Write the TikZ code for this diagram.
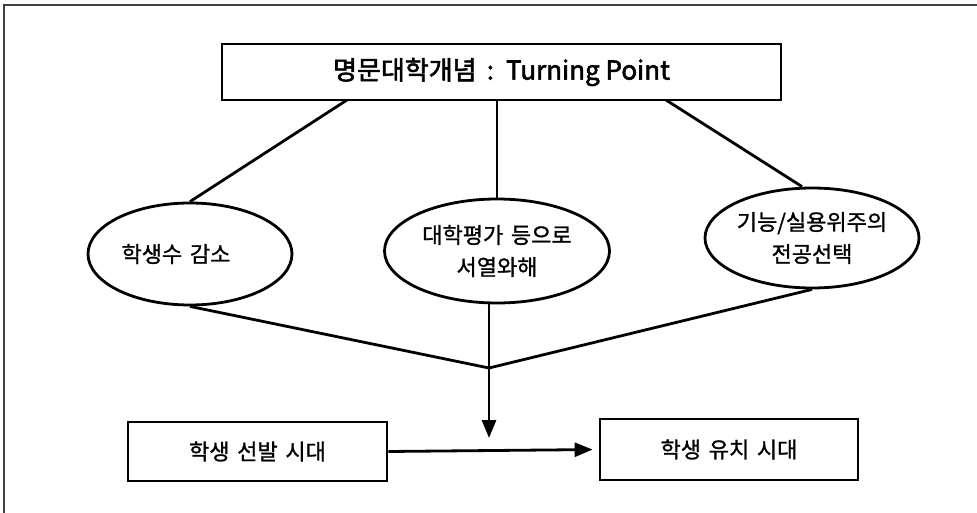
\documentclass[tikz,border=0pt]{standalone}
\usepackage{fontspec}
\setmainfont[FakeBold=1.2]{Noto Sans CJK KR}
\newfontfamily\topfont[FakeBold=2.2]{Noto Sans CJK KR}
\newcommand{\gap}{\hspace{0.35em}}
\usetikzlibrary{arrows.meta,shapes.geometric}
\begin{document}
\begin{tikzpicture}[x=1pt,y=-1pt,
  thick line/.style={line width=2.8pt},
  boxnode/.style={draw,rectangle,thick line,inner sep=0pt,align=center,
    font=\fontsize{22}{30}\selectfont},
  ovalnode/.style={draw,ellipse,thick line,inner sep=0pt,align=center,
    font=\fontsize{22}{32}\selectfont},
  link/.style={thick line},
  arrowlink/.style={thick line,-{Triangle[length=18pt,width=14pt]}}]
\useasboundingbox (0,0) rectangle (977,513);
% frame
\draw[line width=1.5pt,black!75] (4,513) -- (4,5) -- (977,5);
% nodes
\node[boxnode,minimum width=559pt,minimum height=56pt,
  font=\fontsize{26}{30}\selectfont\topfont] (top) at (501.5,72)
  {명문대학개념 \,:\, Turning Point};
\node[ovalnode,minimum width=204pt,minimum height=102pt] (l) at (190,254) {};
\node[font=\fontsize{22}{32}\selectfont] (ltext) at (176,254) {학생수\gap 감소};
\node[ovalnode,minimum width=225pt,minimum height=104pt] (m) at (497,251)
  {대학평가\gap 등으로\\서열와해};
\node[ovalnode,minimum width=214pt,minimum height=100pt] (r) at (812,238)
  {기능/실용위주의\\전공선택};
\node[boxnode,minimum width=259pt,minimum height=59pt] (lb) at (257.5,451.5)
  {학생\gap 선발\gap 시대};
\node[boxnode,minimum width=258pt,minimum height=61pt] (rb) at (729,449.5)
  {학생\gap 유치\gap 시대};
% points on the top box and junction
\coordinate (t1) at (347,100);
\coordinate (t2) at (497,100);
\coordinate (t3) at (666,100);
\coordinate (j) at (489,368);
\coordinate (jt) at (489,438);
% connectors
\draw[link] (t1) -- (l.north);
\draw[link] (t2) -- (m.north);
\draw[link] (t3) -- ([xshift=-10pt]r.north);
\draw[link] (l.south) -- (j);
\draw[link] (m.south -| j) -- (j);
\draw[link] (r.south) -- (j);
\draw[arrowlink] (j) -- (jt);
\draw[arrowlink,shorten >=6pt] (lb.east) -- (rb.west);
\end{tikzpicture}
\end{document}
